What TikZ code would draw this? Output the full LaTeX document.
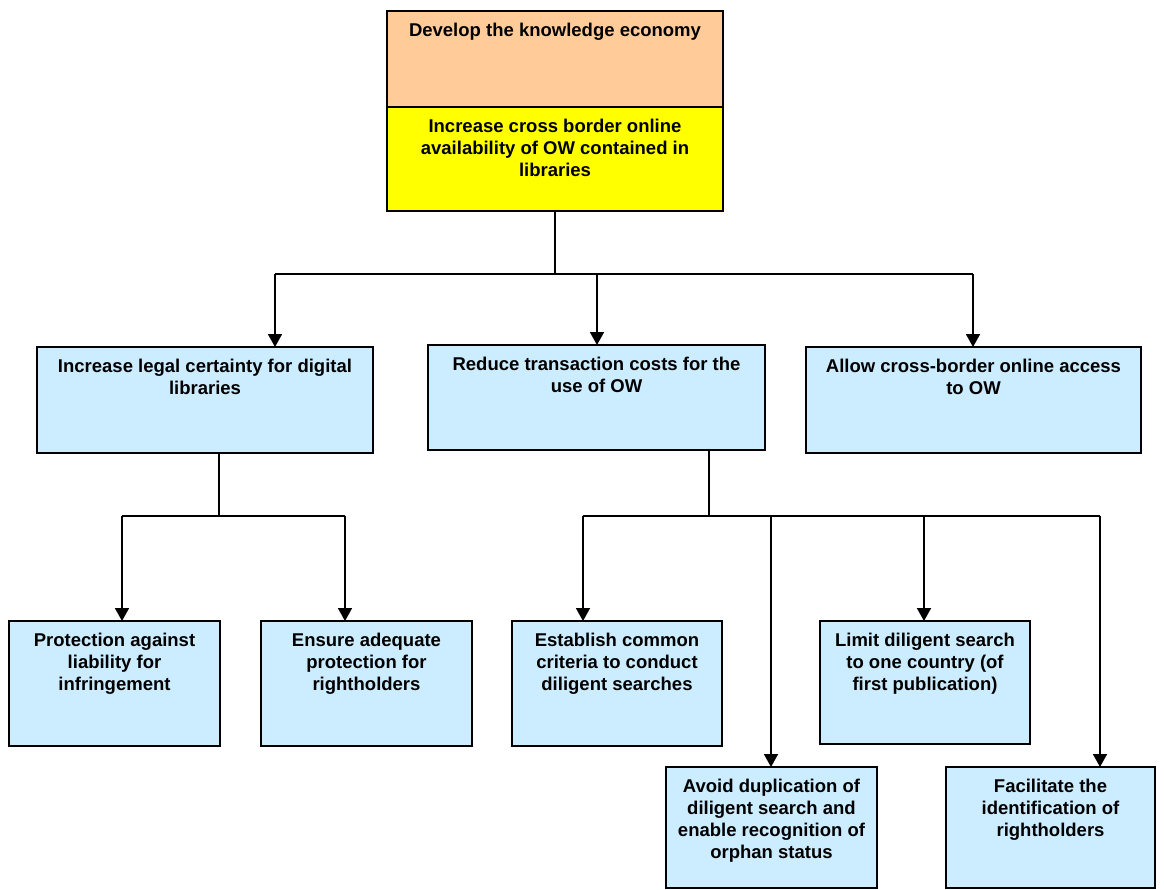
\documentclass[tikz,border=0pt]{standalone}
\usepackage{fontspec}
\setmainfont{Liberation Sans}
\usetikzlibrary{arrows.meta}
\definecolor{orangebox}{HTML}{FFCC99}
\definecolor{yellowbox}{HTML}{FFFF00}
\definecolor{bluebox}{HTML}{CCECFF}
\tikzset{
  box/.style={draw=black, line width=2.6pt, anchor=north west, inner sep=0pt, outer sep=0pt, fill=bluebox},
  txt/.style={anchor=north, inner sep=0pt, outer sep=0pt, align=center, font=\fontsize{18.5}{22}\selectfont\bfseries},
  conn/.style={draw=black, line width=1.8pt},
  arr/.style={conn, -{Triangle[width=14pt,length=13pt]}},
}
\begin{document}
\begin{tikzpicture}[x=1pt,y=-1pt]
\useasboundingbox (0,0) rectangle (1164,889);
% top
\node[box, fill=orangebox, minimum width=336pt, minimum height=96pt] (O) at (387,11) {};
\node[box, fill=yellowbox, minimum width=336pt, minimum height=104pt] (Y) at (387,107) {};
% level 2
\node[box, minimum width=336pt, minimum height=106pt] (A) at (37,347) {};
\node[box, minimum width=337pt, minimum height=105pt] (B) at (428,345) {};
\node[box, minimum width=335pt, minimum height=106pt] (C) at (806,347) {};
% level 3
\node[box, minimum width=211pt, minimum height=125pt] (P1) at (9,621) {};
\node[box, minimum width=211pt, minimum height=125pt] (P2) at (261,621) {};
\node[box, minimum width=210pt, minimum height=125pt] (E) at (512,621) {};
\node[box, minimum width=210pt, minimum height=123pt] (L) at (820,621) {};
\node[box, minimum width=211pt, minimum height=121pt] (Av) at (666,767) {};
\node[box, minimum width=209pt, minimum height=121pt] (F) at (946,767) {};
% texts
\node[txt] (Ot) at ([yshift=-12.5pt]O.north) {Develop the knowledge economy};
\node[txt] (Yt) at ([yshift=-12pt]Y.north) {Increase cross border online\\availability of OW contained in\\libraries};
\node[txt] (At) at ([yshift=-12.5pt]A.north) {Increase legal certainty for digital\\libraries};
\node[txt] (Bt) at ([yshift=-12.5pt]B.north) {Reduce transaction costs for the\\use of OW};
\node[txt] (Ct) at ([yshift=-12.5pt]C.north) {Allow cross-border online access\\to OW};
\node[txt] (P1t) at ([yshift=-12.5pt]P1.north) {Protection against\\liability for\\infringement};
\node[txt] (P2t) at ([yshift=-12.5pt]P2.north) {Ensure adequate\\protection for\\rightholders};
\node[txt] (Et) at ([yshift=-12.5pt]E.north) {Establish common\\criteria to conduct\\diligent searches};
\node[txt] (Lt) at ([yshift=-12.5pt]L.north) {Limit diligent search\\to one country (of\\first publication)};
\node[txt] (Avt) at ([yshift=-12.5pt]Av.north) {Avoid duplication of\\diligent search and\\enable recognition of\\orphan status};
\node[txt] (Ft) at ([yshift=-12.5pt]F.north) {Facilitate the\\identification of\\rightholders};
% bus 1
\coordinate (b1l) at (275,274);
\coordinate (b1m) at (597,274);
\coordinate (b1r) at (973,274);
\draw[conn] (Y.south) -- (Y.south |- b1l);
\draw[conn] (b1l) -- (b1r);
\draw[arr] (b1l) -- (b1l |- A.north);
\draw[arr] (b1m) -- (b1m |- B.north);
\draw[arr] (b1r) -- (b1r |- C.north);
% bus 2
\coordinate (b2l) at (122,516);
\coordinate (b2r) at (345,516);
\coordinate (b2m) at (219,516);
\draw[conn] (A.south -| b2m) -- (b2m);
\draw[conn] (b2l) -- (b2r);
\draw[arr] (b2l) -- (b2l |- P1.north);
\draw[arr] (b2r) -- (b2r |- P2.north);
% bus 3
\coordinate (b3a) at (583,516);
\coordinate (b3b) at (771,516);
\coordinate (b3c) at (924,516);
\coordinate (b3d) at (1100,516);
\coordinate (b3m) at (709,516);
\draw[conn] (B.south -| b3m) -- (b3m);
\draw[conn] (b3a) -- (b3d);
\draw[arr] (b3a) -- (b3a |- E.north);
\draw[arr] (b3b) -- (b3b |- Av.north);
\draw[arr] (b3c) -- (b3c |- L.north);
\draw[arr] (b3d) -- (b3d |- F.north);
\end{tikzpicture}
\end{document}
